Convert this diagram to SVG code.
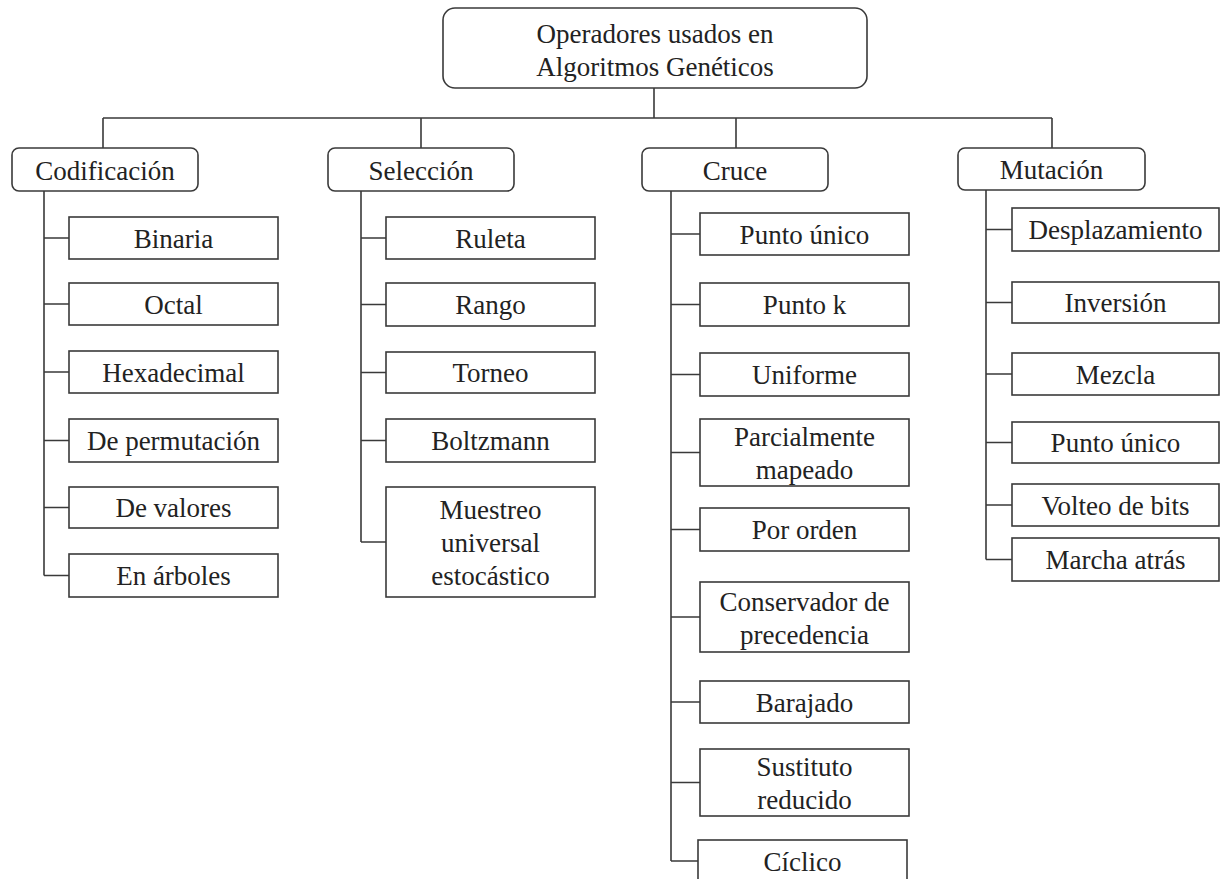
<svg xmlns="http://www.w3.org/2000/svg" width="1220" height="879" viewBox="0 0 1220 879">
  <style>
    .box { fill: #ffffff; stroke: #3a3a3a; stroke-width: 1.6; }
    .wire { fill: none; stroke: #3a3a3a; stroke-width: 1.6; }
    text { font-family: "Liberation Serif", "Times New Roman", serif; font-size: 27px; fill: #222222; text-anchor: middle; }
  </style>
  <rect width="1220" height="879" fill="#ffffff"/>

  <!-- connectors -->
  <g id="connectors" class="wire">
    <path d="M654 88 V118 M103 118 H1052 M103 118 V148 M421 118 V148 M736 118 V148 M1052 118 V148"/>
    <!-- Codificación -->
    <path d="M44 191 V575.5 M44 238 H69 M44 304 H69 M44 372 H69 M44 440.5 H69 M44 507.5 H69 M44 575.5 H69"/>
    <!-- Selección -->
    <path d="M361 191 V542 M361 238 H386 M361 304.5 H386 M361 372.5 H386 M361 440.5 H386 M361 542 H386"/>
    <!-- Cruce -->
    <path d="M671 191 V861 M671 234 H700 M671 304.5 H700 M671 374.5 H700 M671 452.5 H700 M671 529.5 H700 M671 617 H700 M671 702 H700 M671 782.5 H700 M671 861 H698"/>
    <!-- Mutación -->
    <path d="M986 190 V559.5 M986 229.5 H1012 M986 302.5 H1012 M986 374 H1012 M986 442.5 H1012 M986 505 H1012 M986 559.5 H1012"/>
  </g>

  <!-- root -->
  <g id="root">
    <rect class="box" x="443" y="8" width="424" height="80" rx="12"/>
    <text x="655" y="43">Operadores usados en</text>
    <text x="655" y="76">Algoritmos Genéticos</text>
  </g>

  <!-- category headers -->
  <g id="codificacion">
    <rect class="box" x="12" y="148" width="186" height="43" rx="7"/>
    <text x="105" y="179.5">Codificación</text>
  </g>
  <g id="seleccion">
    <rect class="box" x="328" y="148" width="186" height="43" rx="7"/>
    <text x="421" y="179.5">Selección</text>
  </g>
  <g id="cruce">
    <rect class="box" x="642" y="148" width="186" height="43" rx="7"/>
    <text x="735" y="179.5">Cruce</text>
  </g>
  <g id="mutacion">
    <rect class="box" x="958" y="148" width="187" height="42" rx="7"/>
    <text x="1051.5" y="179">Mutación</text>
  </g>

  <!-- Codificación items -->
  <g id="binaria"><rect class="box" x="69" y="217" width="209" height="42"/><text x="173.5" y="247.5">Binaria</text></g>
  <g id="octal"><rect class="box" x="69" y="283" width="209" height="42"/><text x="173.5" y="313.5">Octal</text></g>
  <g id="hexadecimal"><rect class="box" x="69" y="351" width="209" height="42"/><text x="173.5" y="381.5">Hexadecimal</text></g>
  <g id="permutacion"><rect class="box" x="69" y="419" width="209" height="43"/><text x="173.5" y="450">De permutación</text></g>
  <g id="valores"><rect class="box" x="69" y="487" width="209" height="41"/><text x="173.5" y="517">De valores</text></g>
  <g id="arboles"><rect class="box" x="69" y="554" width="209" height="43"/><text x="173.5" y="585">En árboles</text></g>

  <!-- Selección items -->
  <g id="ruleta"><rect class="box" x="386" y="217" width="209" height="42"/><text x="490.5" y="247.5">Ruleta</text></g>
  <g id="rango"><rect class="box" x="386" y="283" width="209" height="43"/><text x="490.5" y="314">Rango</text></g>
  <g id="torneo"><rect class="box" x="386" y="352" width="209" height="41"/><text x="490.5" y="382">Torneo</text></g>
  <g id="boltzmann"><rect class="box" x="386" y="419" width="209" height="43"/><text x="490.5" y="450">Boltzmann</text></g>
  <g id="muestreo">
    <rect class="box" x="386" y="487" width="209" height="110"/>
    <text x="490.5" y="518.5">Muestreo</text>
    <text x="490.5" y="551.5">universal</text>
    <text x="490.5" y="584.5">estocástico</text>
  </g>

  <!-- Cruce items -->
  <g id="punto-unico-c"><rect class="box" x="700" y="213" width="209" height="42"/><text x="804.5" y="243.5">Punto único</text></g>
  <g id="punto-k"><rect class="box" x="700" y="283" width="209" height="43"/><text x="804.5" y="314">Punto k</text></g>
  <g id="uniforme"><rect class="box" x="700" y="353" width="209" height="43"/><text x="804.5" y="384">Uniforme</text></g>
  <g id="parcialmente">
    <rect class="box" x="700" y="419" width="209" height="67"/>
    <text x="804.5" y="445.5">Parcialmente</text>
    <text x="804.5" y="478.5">mapeado</text>
  </g>
  <g id="por-orden"><rect class="box" x="700" y="508" width="209" height="43"/><text x="804.5" y="539">Por orden</text></g>
  <g id="conservador">
    <rect class="box" x="700" y="582" width="209" height="70"/>
    <text x="804.5" y="610.5">Conservador de</text>
    <text x="804.5" y="643.5">precedencia</text>
  </g>
  <g id="barajado"><rect class="box" x="700" y="681" width="209" height="42"/><text x="804.5" y="711.5">Barajado</text></g>
  <g id="sustituto">
    <rect class="box" x="700" y="749" width="209" height="67"/>
    <text x="804.5" y="775.5">Sustituto</text>
    <text x="804.5" y="808.5">reducido</text>
  </g>
  <g id="ciclico"><rect class="box" x="698" y="840" width="209" height="42"/><text x="802.5" y="870.5">Cíclico</text></g>

  <!-- Mutación items -->
  <g id="desplazamiento"><rect class="box" x="1012" y="208" width="207" height="43"/><text x="1115.5" y="239">Desplazamiento</text></g>
  <g id="inversion"><rect class="box" x="1012" y="282" width="207" height="41"/><text x="1115.5" y="312">Inversión</text></g>
  <g id="mezcla"><rect class="box" x="1012" y="353" width="207" height="42"/><text x="1115.5" y="383.5">Mezcla</text></g>
  <g id="punto-unico-m"><rect class="box" x="1012" y="422" width="207" height="41"/><text x="1115.5" y="452">Punto único</text></g>
  <g id="volteo"><rect class="box" x="1012" y="484" width="207" height="42"/><text x="1115.5" y="514.5">Volteo de bits</text></g>
  <g id="marcha"><rect class="box" x="1012" y="538" width="207" height="43"/><text x="1115.5" y="569">Marcha atrás</text></g>
</svg>
